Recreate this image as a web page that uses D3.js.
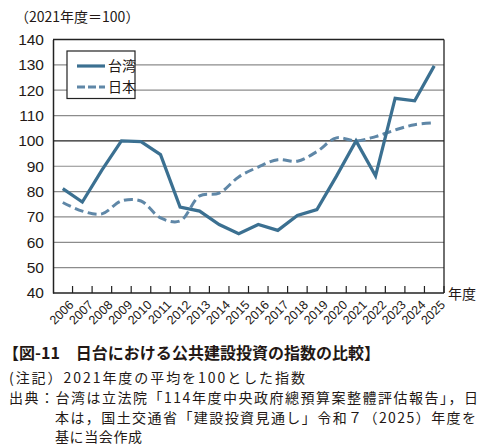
<!DOCTYPE html>
<html>
<head>
<meta charset="utf-8">
<script src="https://cdn.jsdelivr.net/npm/d3@7"></script>
<style>
body { margin: 0; background: #fff; }
svg text { font-family: "Liberation Sans", "Noto Sans CJK JP", sans-serif; fill: #231815; }
.jp { font-family: "Noto Sans CJK JP", sans-serif; }
</style>
</head>
<body>
<div id="chart"></div>
<script>
// data
var years = ["2006","2007","2008","2009","2010","2011","2012","2013","2014","2015",
             "2016","2017","2018","2019","2020","2021","2022","2023","2024","2025"];
var taiwan = [81.2, 75.9, 88.5, 100, 99.7, 94.6, 73.9, 72.3, 67.0, 63.4,
              67.0, 64.7, 70.6, 72.9, 86.1, 100, 86.2, 116.8, 115.8, 129.6];
var japan = [75.7, 72.3, 71.2, 76.3, 76.3, 69.6, 68.4, 78.3, 79.4, 85.8,
             89.7, 92.6, 92.0, 95.8, 101.2, 100, 101.7, 104.3, 106.4, 107.1];
var yTicks = [40, 50, 60, 70, 80, 90, 100, 110, 120, 130, 140];
var seriesNames = ["台湾", "日本"];

var width = 488, height = 447,
    margin = {top: 39.5, right: 44, bottom: 154, left: 53};
var innerW = width - margin.left - margin.right,
    innerH = height - margin.top - margin.bottom;

var svg = d3.select("#chart").append("svg")
  .attr("width", width)
  .attr("height", height);

var g = svg.append("g")
  .attr("transform", `translate(${margin.left},${margin.top})`);

var xScale = d3.scaleBand().domain(years).range([0, innerW]);
var yScale = d3.scaleLinear().domain([40, 140]).range([innerH, 0]);

// gridlines
g.selectAll(".grid")
  .data(yTicks.filter(d => d > 40 && d < 140))
  .enter().append("line")
  .attr("x1", 0).attr("x2", innerW)
  .attr("y1", d => yScale(d)).attr("y2", d => yScale(d))
  .attr("stroke", d => d === 100 ? "#222" : "#8c8c8c")
  .attr("stroke-width", d => d === 100 ? 1.3 : 1.2);

// frame: top and right
g.append("line").attr("x1", 0).attr("x2", innerW).attr("y1", 0).attr("y2", 0)
  .attr("stroke", "#222").attr("stroke-width", 1.3);
g.append("line").attr("x1", innerW).attr("x2", innerW).attr("y1", 0).attr("y2", innerH)
  .attr("stroke", "#222").attr("stroke-width", 1.3);

// y axis
var yAxis = d3.axisLeft(yScale).tickValues(yTicks).tickSize(0).tickPadding(9);
var yG = g.append("g").call(yAxis);
yG.select(".domain").attr("stroke", "#222").attr("stroke-width", 1.5);
yG.selectAll("text").style("font-size", "15.5px").attr("fill", "#231815");

// x axis: ticks at band boundaries pointing into the plot
var xG = g.append("g").attr("transform", `translate(0,${innerH})`);
xG.append("line").attr("x1", 0).attr("x2", innerW)
  .attr("stroke", "#222").attr("stroke-width", 1.5);
xG.selectAll(".tk")
  .data(years.slice(1).concat(["end"]))
  .enter().append("line")
  .attr("x1", (d, i) => xScale.step() * (i + 1))
  .attr("x2", (d, i) => xScale.step() * (i + 1))
  .attr("y1", 0).attr("y2", -7)
  .attr("stroke", "#222").attr("stroke-width", 1.2);
xG.selectAll(".lbl")
  .data(years)
  .enter().append("text")
  .attr("transform", d => `translate(${xScale(d) + xScale.bandwidth() / 2 + 5},${6}) rotate(-45)`)
  .attr("text-anchor", "end")
  .attr("dy", "0.75em")
  .style("font-size", "12.5px")
  .text(d => d);

// lines
var lineTw = d3.line()
  .x((d, i) => xScale(years[i]) + xScale.bandwidth() / 2)
  .y(d => yScale(d));
var lineJp = d3.line()
  .x((d, i) => xScale(years[i]) + xScale.bandwidth() / 2)
  .y(d => yScale(d))
  .curve(d3.curveCatmullRom.alpha(0.5));

g.append("path").datum(japan)
  .attr("d", lineJp)
  .attr("fill", "none")
  .attr("stroke", "#5f87a7")
  .attr("stroke-width", 3)
  .attr("stroke-dasharray", "9,4.5");

g.append("path").datum(taiwan)
  .attr("d", lineTw)
  .attr("fill", "none")
  .attr("stroke", "#3b7091")
  .attr("stroke-width", 3.2)
  .attr("stroke-linejoin", "miter");

// legend
var leg = svg.append("g").attr("transform", "translate(67,51)");
leg.append("rect").attr("width", 68).attr("height", 47.5)
  .attr("fill", "#fff").attr("stroke", "#222").attr("stroke-width", 1.2);
leg.append("line").attr("x1", 10).attr("x2", 38).attr("y1", 15).attr("y2", 15)
  .attr("stroke", "#3b7091").attr("stroke-width", 3.2);
leg.append("line").attr("x1", 10).attr("x2", 38).attr("y1", 36).attr("y2", 36)
  .attr("stroke", "#5f87a7").attr("stroke-width", 3).attr("stroke-dasharray", "8,3");
leg.selectAll(".lt")
  .data(seriesNames)
  .enter().append("text")
  .attr("class", "jp")
  .attr("x", 41)
  .attr("y", (d, i) => 15 + i * 21)
  .attr("dy", "0.36em")
  .style("font-size", "14px")
  .text(d => d);

// unit labels
svg.append("text").attr("class", "jp")
  .attr("x", 15).attr("y", 22)
  .style("font-size", "14px")
  .text("（2021年度＝100）");
svg.append("text").attr("class", "jp")
  .attr("x", 448).attr("y", 299)
  .style("font-size", "14px")
  .text("年度");

// caption
svg.append("text").attr("class", "jp")
  .attr("x", 3).attr("y", 359)
  .attr("textLength", 377).attr("lengthAdjust", "spacing")
  .style("font-size", "16px").style("font-weight", "bold")
  .text("【図-11　日台における公共建設投資の指数の比較】");
var notes = [
  {x: 9, y: 383, w: 296, t: "(注記）2021年度の平均を100とした指数"},
  {x: 9, y: 403, w: 469, t: "出典：台湾は立法院「114年度中央政府總預算案整體評估報告」，日"},
  {x: 55, y: 423, w: 421, t: "本は，国土交通省「建設投資見通し」令和７（2025）年度を"},
  {x: 55, y: 442, w: 87, t: "基に当会作成"}
];
svg.selectAll(".note")
  .data(notes)
  .enter().append("text")
  .attr("class", "jp")
  .attr("x", d => d.x).attr("y", d => d.y)
  .attr("textLength", d => d.w).attr("lengthAdjust", "spacing")
  .style("font-size", "14px")
  .text(d => d.t);
</script>
</body>
</html>
